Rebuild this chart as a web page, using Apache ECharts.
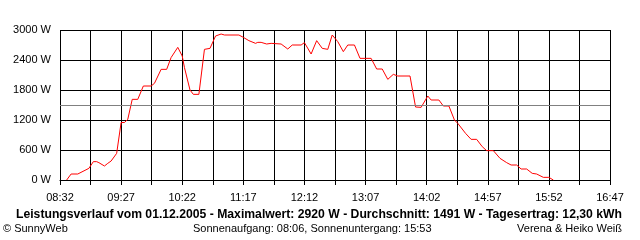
<!DOCTYPE html>
<html>
<head>
<meta charset="utf-8">
<script src="https://cdn.jsdelivr.net/npm/echarts@6/dist/echarts.min.js"></script>
<style>
html,body{margin:0;padding:0;background:#fff;}
#c{width:640px;height:240px;}
</style>
</head>
<body>
<div id="c"></div>
<script>
// Time of each reading (clock time) and power in W
const times = ["08:38","08:42","08:48","08:58","09:02","09:05","09:07","09:12","09:15","09:18",
  "09:23","09:27","09:30","09:33","09:37","09:42","09:47","09:54","09:57","10:03",
  "10:08","10:12","10:18","10:22","10:24","10:27","10:29","10:32","10:37","10:42",
  "10:47","10:52","10:57","11:00","11:13","11:17","11:22","11:28","11:30","11:33",
  "11:38","11:42","11:51","11:57","12:01","12:09","12:12","12:18","12:23","12:28",
  "12:33","12:37","12:42","12:47","12:51","12:57","13:02","13:12","13:17","13:22",
  "13:27","13:32","13:36","13:47","13:52","13:57","14:03","14:06","14:13","14:17",
  "14:22","14:27","14:30","14:37","14:42","14:47","14:52","14:56","15:02","15:08",
  "15:14","15:18","15:23","15:27","15:32","15:37","15:41","15:47","15:52","15:56"];
const power = [0,120,120,233,367,367,347,280,333,380,
  533,1150,1150,1213,1613,1613,1880,1880,1933,2213,
  2213,2450,2653,2480,2250,1980,1800,1713,1713,2613,
  2633,2880,2920,2900,2900,2853,2787,2733,2753,2753,
  2720,2733,2720,2620,2700,2700,2747,2520,2787,2633,
  2613,2900,2767,2567,2700,2700,2433,2433,2220,2220,
  2013,2113,2080,2080,1460,1453,1680,1600,1600,1480,
  1480,1200,1133,933,813,813,667,587,587,433,
  347,300,300,220,220,133,120,53,53,0];
const average = 1491;
const axisStart = "08:32";
const axisEnd = "16:47";
const tickStepMin = 27.5;   // gridline spacing in minutes
const labelStepMin = 55;    // labelled every 55 minutes
const yTicks = [0, 600, 1200, 1800, 2400, 3000];

const titleText = "Leistungsverlauf vom 01.12.2005 - Maximalwert: 2920 W - Durchschnitt: 1491 W - Tagesertrag: 12,30 kWh";
const footLeft = "\u00A9 SunnyWeb";
const footMid = "Sonnenaufgang: 08:06, Sonnenuntergang: 15:53";
const footRight = "Verena & Heiko Wei\u00DF";

function toMin(s){const p=s.split(":");return (+p[0])*60+(+p[1]);}
const t0 = toMin(axisStart);
const span = toMin(axisEnd) - t0;
function fmt(m){const t=Math.round(t0+m);const h=Math.floor(t/60),mm=t%60;return (h<10?"0":"")+h+":"+(mm<10?"0":"")+mm;}

const data = times.map((t,i)=>[toMin(t)-t0, power[i]]);
const FONT = "Liberation Sans";

const chart = echarts.init(document.getElementById('c'), null, {renderer:'canvas'});
chart.setOption({
  animation:false,
  backgroundColor:'#fff',
  grid:{left:60,right:30,top:30,bottom:60,containLabel:false},
  graphic:[
    {type:'text',left:16,top:209,style:{text:titleText,font:'bold 12.2px "Liberation Sans"',fill:'#000'}},
    {type:'text',left:3,top:223,style:{text:footLeft,font:'11px "Liberation Sans"',fill:'#000'}},
    {type:'text',left:193,top:223,style:{text:footMid,font:'11px "Liberation Sans"',fill:'#000'}},
    {type:'text',right:18,top:223,style:{text:footRight,font:'11px "Liberation Sans"',fill:'#000'}}
  ],
  xAxis:{
    type:'value',min:0,max:span,interval:tickStepMin,
    axisLine:{show:true,lineStyle:{color:'#000',width:1}},
    axisTick:{show:true,length:5,lineStyle:{color:'#000'}},
    splitLine:{show:true,lineStyle:{color:'#000',width:1}},
    axisLabel:{margin:12,fontFamily:FONT,fontSize:11,color:'#000',showMinLabel:true,showMaxLabel:true,
      formatter:function(v){return (Math.abs(v/labelStepMin-Math.round(v/labelStepMin))<1e-6)?fmt(v):'';}}
  },
  yAxis:{
    type:'value',min:yTicks[0],max:yTicks[yTicks.length-1],interval:yTicks[1]-yTicks[0],
    axisLine:{show:false},axisTick:{show:false},
    splitLine:{show:true,lineStyle:{color:'#000',width:1}},
    axisLabel:{margin:9,fontFamily:FONT,fontSize:11,color:'#000',formatter:function(v){return String(v)+' W';}}
  },
  series:[{
    type:'line',data:data,showSymbol:false,symbol:'none',
    lineStyle:{color:'#ff0000',width:1},
    markLine:{silent:true,symbol:'none',label:{show:false},
      lineStyle:{color:'#808080',width:1,type:'solid'},
      data:[{yAxis:average}]},
    z:3
  }]
});
</script>
</body>
</html>
